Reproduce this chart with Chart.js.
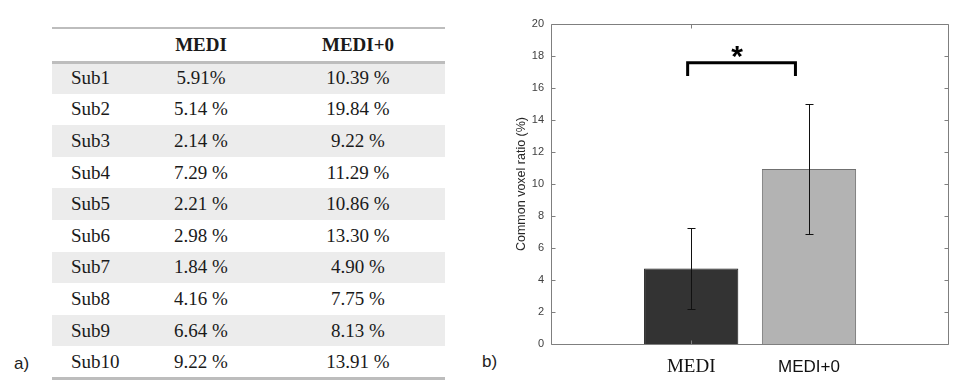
<!DOCTYPE html>
<html>
<head>
<meta charset="utf-8">
<script src="https://cdn.jsdelivr.net/npm/chart.js@4.4.1/dist/chart.umd.min.js"></script>
<style>
    body { margin: 0; width: 962px; height: 390px; background: #fff; position: relative; overflow: hidden; }
    #table { position: absolute; left: 52px; top: 28px; width: 393px; height: 350px;
             font-family: "Liberation Serif", "Times New Roman", serif; font-size: 19px; color: #1a1a1a; }
    .row { position: absolute; left: 0; width: 393px; }
    .row.shade { background: #ececec; }
    .cell { position: absolute; top: 0; height: 100%; display: flex; align-items: center; white-space: nowrap; }
    .cell.mid { justify-content: center; width: 110px; }
    .head { font-weight: bold; }
    .rule { position: absolute; left: 0; width: 393px; background: #bdbdbd; }
    .panel { position: absolute; font-family: "Liberation Sans", Arial, sans-serif; font-size: 17px; color: #222; line-height: 20px; }
    #chartBox { position: absolute; left: 480px; top: 0; width: 482px; height: 390px; }
</style>
</head>
<body>
<div id="table"></div>
<div class="panel" style="left:14px; top:354px;">a)</div>
<div class="panel" style="left:482px; top:352px;">b)</div>
<div id="chartBox"><canvas id="bars" width="482" height="390"></canvas></div>

<script>
// table (a)
const subjects = ['Sub1', 'Sub2', 'Sub3', 'Sub4', 'Sub5', 'Sub6', 'Sub7', 'Sub8', 'Sub9', 'Sub10'];
const mediText = ['5.91%', '5.14 %', '2.14 %', '7.29 %', '2.21 %', '2.98 %', '1.84 %', '4.16 %', '6.64 %', '9.22 %'];
const medi0Text = ['10.39 %', '19.84 %', '9.22 %', '11.29 %', '10.86 %', '13.30 %', '4.90 %', '7.75 %', '8.13 %', '13.91 %'];

// bar chart (b)
const categories = ['MEDI', 'MEDI+0'];
const categoryX = [1, 2];
const meanRatio = [4.72, 10.94];
const errRatio = [2.53, 4.08];
const yTicks = [0, 2, 4, 6, 8, 10, 12, 14, 16, 18, 20];
const xTickMarks = [1];
const xRange = [-0.19, 3.18];
const bracketX = [0.97, 1.885];
const bracketTop = 17.58;
const bracketFoot = 16.75;
const starPos = [1.39, 18.5];

// build the table
const table = document.getElementById('table');
const headH = 34, rowH = 31.6;

function addRule(top, h) {
    const r = document.createElement('div');
    r.className = 'rule';
    r.style.top = top + 'px';
    r.style.height = h + 'px';
    table.appendChild(r);
}

function addRow(top, h, texts, cls) {
    const row = document.createElement('div');
    row.className = 'row' + (cls ? ' ' + cls : '');
    row.style.top = top + 'px';
    row.style.height = h + 'px';
    const lefts = [19, 94, 251];
    texts.forEach((t, i) => {
        const c = document.createElement('div');
        c.className = 'cell' + (i > 0 ? ' mid' : '');
        c.style.left = lefts[i] + 'px';
        c.textContent = t;
        row.appendChild(c);
    });
    table.appendChild(row);
}

addRow(0, headH, ['', categories[0], categories[1]], 'head');
subjects.forEach((s, i) => {
    addRow(headH + i * rowH, rowH, [s, mediText[i], medi0Text[i]], i % 2 === 0 ? 'shade' : '');
});
addRule(-1, 1.5);
addRule(headH - 1, 2.5);
addRule(headH + subjects.length * rowH - 1, 2.5);

// error bars, axes box, inward ticks, significance bracket
const overlay = {
    id: 'overlay',
    afterDatasetsDraw(chart) {
        const { ctx, chartArea: a, scales: { x, y } } = chart;
        ctx.save();

        ctx.strokeStyle = '#111';
        ctx.lineWidth = 1;
        categoryX.forEach((cx, i) => {
            const px = Math.round(x.getPixelForValue(cx)) + 0.5;
            const hi = Math.round(y.getPixelForValue(meanRatio[i] + errRatio[i])) + 0.5;
            const lo = Math.round(y.getPixelForValue(meanRatio[i] - errRatio[i])) + 0.5;
            ctx.beginPath();
            ctx.moveTo(px, hi); ctx.lineTo(px, lo);
            ctx.moveTo(px - 4, hi); ctx.lineTo(px + 4, hi);
            ctx.moveTo(px - 4, lo); ctx.lineTo(px + 4, lo);
            ctx.stroke();
        });

        const L = Math.round(a.left) + 0.5, R = Math.round(a.right) + 0.5;
        const T = Math.round(a.top) + 0.5, B = Math.round(a.bottom) + 0.5;
        ctx.strokeStyle = '#7f7f7f';
        ctx.beginPath();
        ctx.rect(L, T, R - L, B - T);
        yTicks.forEach(v => {
            const py = Math.round(y.getPixelForValue(v)) + 0.5;
            ctx.moveTo(L, py); ctx.lineTo(L + 4, py);
            ctx.moveTo(R, py); ctx.lineTo(R - 4, py);
        });
        xTickMarks.forEach(v => {
            const px = Math.round(x.getPixelForValue(v)) + 0.5;
            ctx.moveTo(px, B); ctx.lineTo(px, B - 4);
            ctx.moveTo(px, T); ctx.lineTo(px, T + 4);
        });
        ctx.stroke();

        const bx0 = x.getPixelForValue(bracketX[0]), bx1 = x.getPixelForValue(bracketX[1]);
        const bt = y.getPixelForValue(bracketTop), bf = y.getPixelForValue(bracketFoot);
        ctx.strokeStyle = '#000';
        ctx.lineWidth = 3;
        ctx.lineJoin = 'miter';
        ctx.beginPath();
        ctx.moveTo(bx0, bf); ctx.lineTo(bx0, bt); ctx.lineTo(bx1, bt); ctx.lineTo(bx1, bf);
        ctx.stroke();

        const size = 30;
        ctx.fillStyle = '#000';
        ctx.font = 'bold ' + size + 'px "Liberation Sans", Arial, sans-serif';
        ctx.textAlign = 'center';
        ctx.textBaseline = 'alphabetic';
        ctx.fillText('*', x.getPixelForValue(starPos[0]), y.getPixelForValue(starPos[1]) + 0.6 * size);
        ctx.restore();
    }
};

new Chart(document.getElementById('bars'), {
    type: 'bar',
    data: {
        datasets: [{
            data: categoryX.map((cx, i) => ({ x: cx, y: meanRatio[i] })),
            backgroundColor: ['#333333', '#b3b3b3'],
            borderColor: ['#1a1a1a', '#707070'],
            borderWidth: 1,
            barPercentage: 0.8,
            categoryPercentage: 1
        }]
    },
    options: {
        responsive: false,
        devicePixelRatio: 1,
        animation: false,
        layout: { padding: { left: 0, top: 24, right: 14, bottom: 0 } },
        plugins: { legend: { display: false }, tooltip: { enabled: false } },
        scales: {
            x: {
                type: 'linear',
                min: xRange[0],
                max: xRange[1],
                offset: false,
                afterBuildTicks: s => { s.ticks = categoryX.map(v => ({ value: v })); },
                afterFit: s => { s.height = 46; },
                grid: { display: false, drawTicks: false },
                border: { display: false },
                ticks: {
                    padding: 12,
                    color: '#111',
                    autoSkip: false,
                    maxRotation: 0,
                    callback: (v, i) => categories[i],
                    font: c => c.index === 0
                        ? { family: '"Liberation Serif", "Times New Roman", serif', size: 19, lineHeight: '22px' }
                        : { family: '"Liberation Sans", Arial, sans-serif', size: 17, lineHeight: '22px' }
                }
            },
            y: {
                min: 0,
                max: 20,
                afterBuildTicks: s => { s.ticks = yTicks.map(v => ({ value: v })); },
                afterFit: s => { s.width = 71; },
                grid: { display: false, drawTicks: false },
                border: { display: false },
                ticks: { padding: 7, color: '#404040', font: { family: '"Liberation Sans", Arial, sans-serif', size: 11 } },
                title: {
                    display: true,
                    text: 'Common voxel ratio (%)',
                    color: '#262626',
                    font: { family: '"Liberation Sans", Arial, sans-serif', size: 12.5 },
                    padding: { top: 34, bottom: 0 }
                }
            }
        }
    },
    plugins: [overlay]
});
</script>
</body>
</html>
